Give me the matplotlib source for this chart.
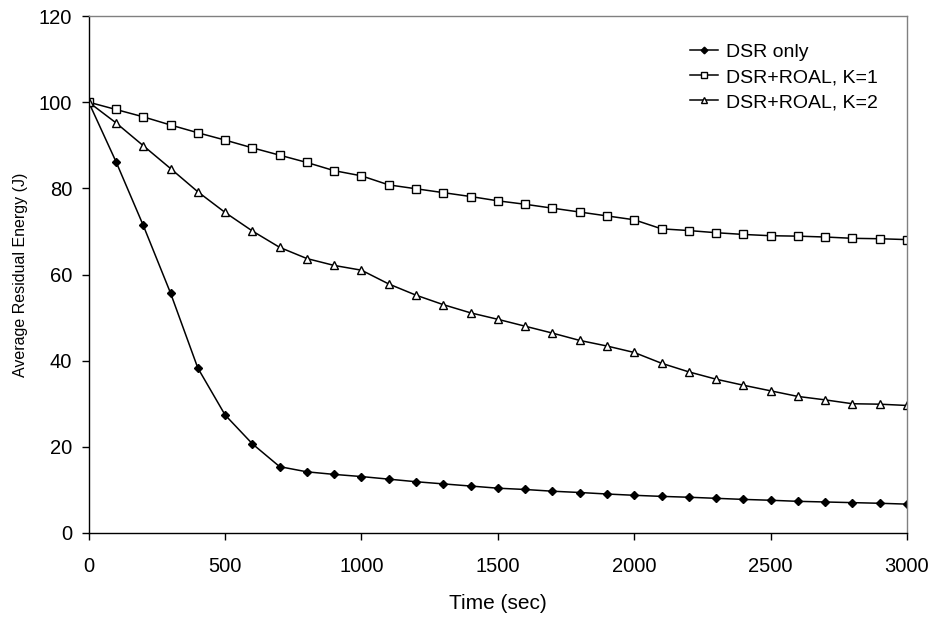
import matplotlib
matplotlib.use("Agg")
import matplotlib.pyplot as plt

plt.rcParams['font.family'] = ['Liberation Sans', 'DejaVu Sans']

time_sec = [0, 100, 200, 300, 400, 500, 600, 700, 800, 900, 1000,
            1100, 1200, 1300, 1400, 1500, 1600, 1700, 1800, 1900, 2000,
            2100, 2200, 2300, 2400, 2500, 2600, 2700, 2800, 2900, 3000]

dsr_only = [100, 86.2, 71.4, 55.7, 38.3, 27.4, 20.7, 15.4, 14.2, 13.6, 13.1,
            12.5, 11.9, 11.4, 10.9, 10.4, 10.1, 9.7, 9.4, 9.05, 8.75,
            8.5, 8.3, 8.05, 7.8, 7.6, 7.35, 7.2, 7.05, 6.9, 6.7]

dsr_roal_k1 = [100, 98.3, 96.6, 94.7, 92.9, 91.2, 89.4, 87.7, 86.0, 84.1, 82.9,
               80.8, 79.9, 79.0, 78.1, 77.1, 76.3, 75.4, 74.5, 73.6, 72.7,
               70.6, 70.2, 69.7, 69.3, 69.0, 68.9, 68.7, 68.4, 68.3, 68.1]

dsr_roal_k2 = [100, 95.2, 89.9, 84.6, 79.2, 74.4, 70.1, 66.3, 63.7, 62.1, 61.0,
               57.8, 55.2, 53.0, 51.1, 49.6, 48.0, 46.4, 44.7, 43.4, 41.9,
               39.4, 37.4, 35.7, 34.3, 33.0, 31.7, 30.9, 30.0, 29.9, 29.6]

series_labels = ["DSR only", "DSR+ROAL, K=1", "DSR+ROAL, K=2"]
x_ticks = [0, 500, 1000, 1500, 2000, 2500, 3000]
y_ticks = [0, 20, 40, 60, 80, 100, 120]

fig = plt.figure(figsize=(9.37, 6.18), dpi=100)
ax = fig.add_axes([88.7 / 937, (618 - 533) / 618, (907 - 88.7) / 937, (533 - 16) / 618])

ax.plot(time_sec, dsr_only, color='black', lw=1.1, marker='D', markersize=4.5,
        markerfacecolor='black', markeredgecolor='black', label=series_labels[0])
ax.plot(time_sec, dsr_roal_k1, color='black', lw=1.1, marker='s', markersize=5.2,
        markerfacecolor='white', markeredgecolor='black', markeredgewidth=1.0,
        label=series_labels[1])
ax.plot(time_sec, dsr_roal_k2, color='black', lw=1.1, marker='^', markersize=5.8,
        markerfacecolor='white', markeredgecolor='black', markeredgewidth=1.0,
        label=series_labels[2])

ax.set_xlim(0, 3000)
ax.set_ylim(0, 120)
ax.set_xticks(x_ticks)
ax.set_yticks(y_ticks)
ax.tick_params(axis='both', direction='out', length=5, width=1, labelsize=14.5,
               color='black')
ax.tick_params(axis='x', pad=12)
ax.tick_params(axis='y', pad=7)

for s in ['left', 'bottom']:
    ax.spines[s].set_color('black')
    ax.spines[s].set_linewidth(1.0)
for s in ['top', 'right']:
    ax.spines[s].set_color('#808080')
    ax.spines[s].set_linewidth(1.0)

ax.set_xlabel("Time (sec)", fontsize=15, labelpad=13)
ax.set_ylabel("Average Residual Energy (J)", fontsize=11.5, labelpad=8)

leg = ax.legend(loc='upper left', bbox_to_anchor=(0.725, 0.962), frameon=False,
                fontsize=14, handlelength=1.45, handletextpad=0.4,
                labelspacing=0.38, markerscale=0.75, borderaxespad=0)

fig.savefig("out.png", dpi=100, facecolor='white')
